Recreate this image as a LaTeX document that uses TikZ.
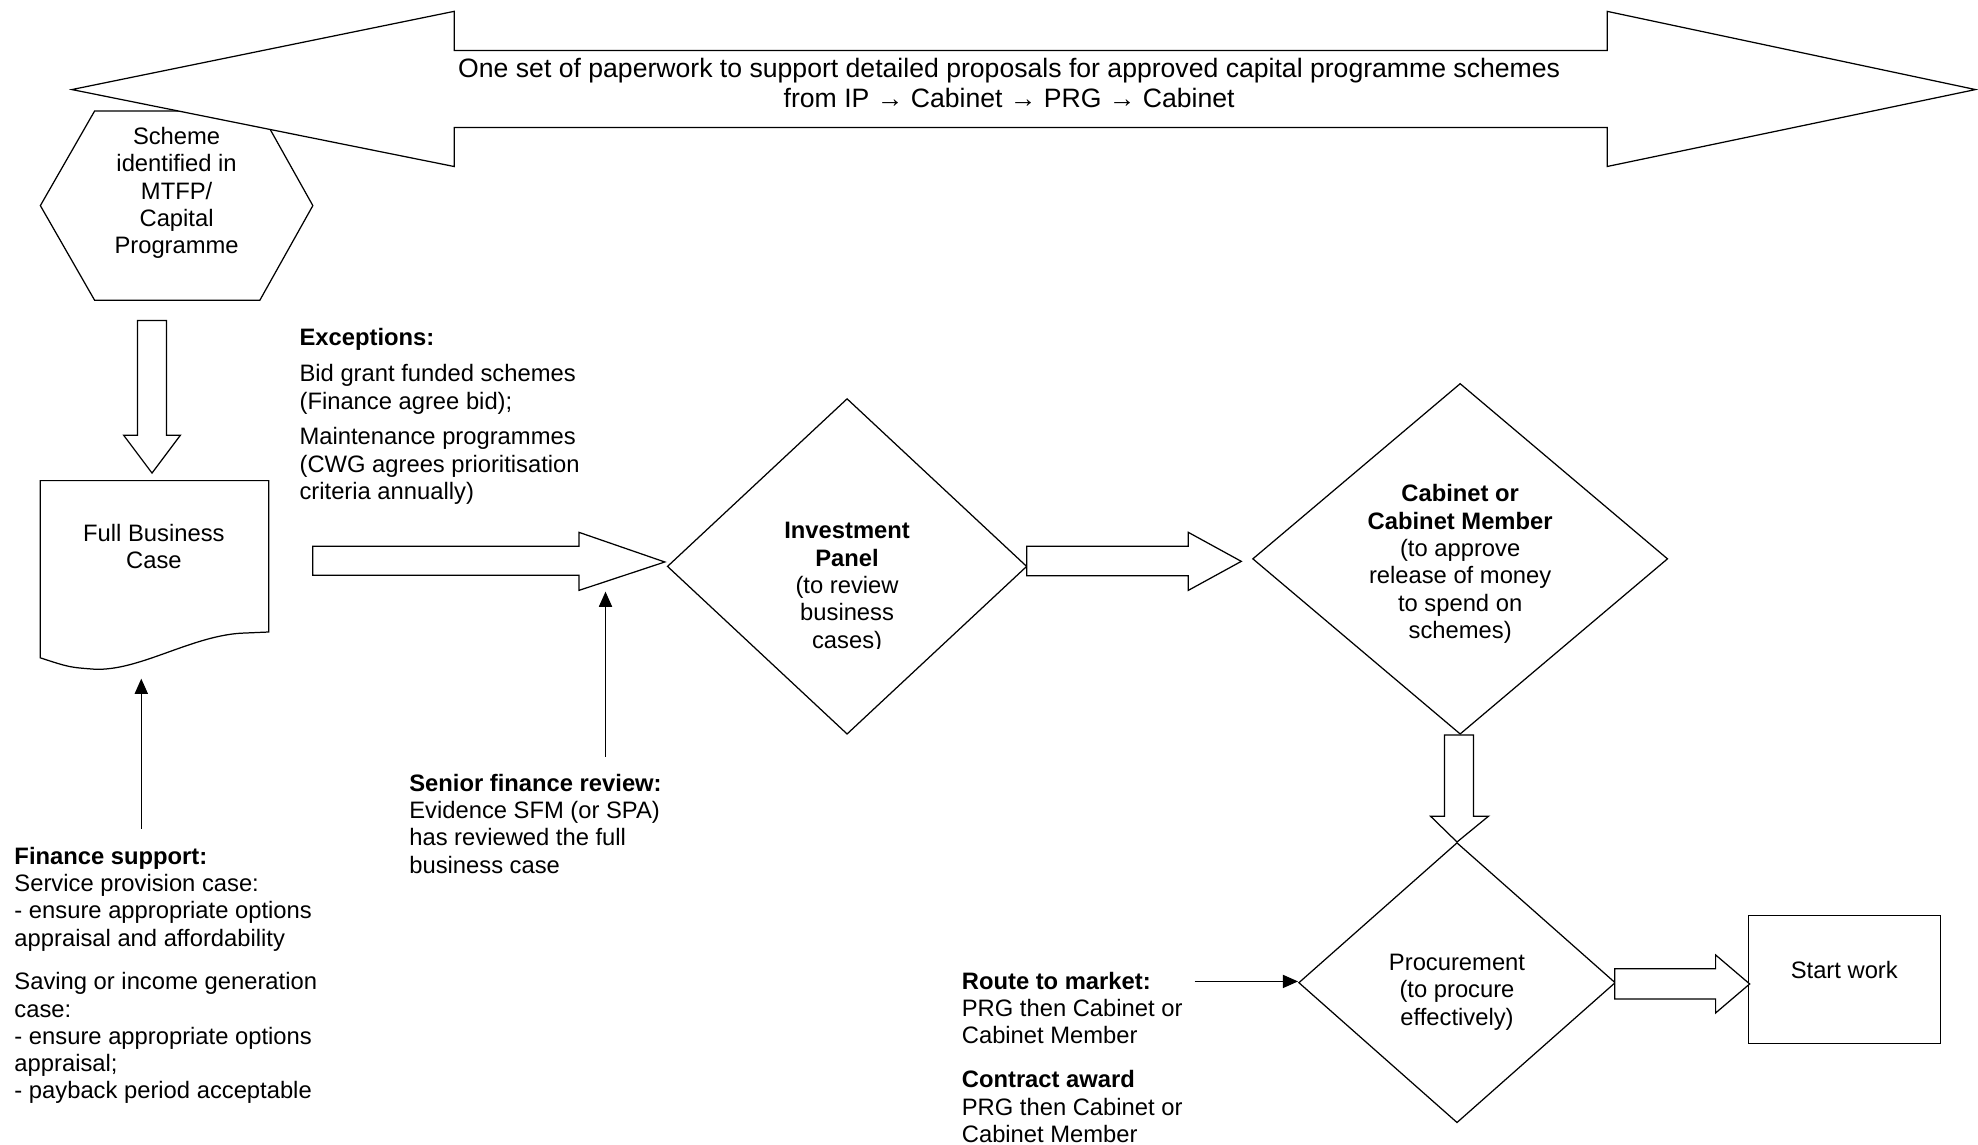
\documentclass[tikz,border=0pt]{standalone}
\usepackage{fontspec}
\setmainfont{Liberation Sans}
\usepackage{tikz}
\usetikzlibrary{arrows.meta, shapes}
\newcommand{\flowfont}{\fontsize{13.4}{15.4}\selectfont}
\newcommand{\bannerfont}{\fontsize{15}{17.1}\selectfont}

\begin{document}
\begin{tikzpicture}[x=0.025cm, y=-0.025cm, line width=0.7pt, font=\flowfont]
\tikzset{thinarrow/.style={-{Triangle[length=0.3cm,width=0.26cm]}},
         blockarrow/.style={draw, fill=white, line join=miter},
         note/.style={align=left, anchor=north west, inner sep=0pt}}
\useasboundingbox (0,0) rectangle (1568,907);

% hexagon and document shape
\draw (75,88) -- (206,88) -- (248,163) -- (206,238) -- (75,238) -- (32,163) -- cycle;
\draw (32,381) -- (213,381) -- (213,501) -- (190,502)
      .. controls (150,505) and (110,532) .. (75,530.5)
      .. controls (55,529) .. (32,521.5) -- cycle;

\begin{scope}[every node/.style={diamond,draw,inner sep=0pt}]
    \node (IP) at (671.5,449) [minimum width=7.125cm, minimum height=6.65cm] {};
    \node (CM) at (1157.5,443) [minimum width=8.225cm, minimum height=6.95cm] {};
    \node (PR) at (1155,779) [minimum width=6.275cm, minimum height=5.55cm] {};
\end{scope}
\node (SW) at (1462,776.5) [draw, minimum width=3.8cm, minimum height=2.525cm] {};

% block arrows
\draw[blockarrow] (57,71) -- (360,9) -- (360,40) -- (1274,40) -- (1274,9) -- (1566,71)
    -- (1274,132) -- (1274,101) -- (360,101) -- (360,132) -- cycle;
\draw[blockarrow] (109,254) -- (132,254) -- (132,345) -- (143,345) -- (120.5,375)
    -- (98,345) -- (109,345) -- cycle;
\draw[blockarrow] (248,433) -- (459,433) -- (459,422) -- (527,445.5) -- (459,468)
    -- (459,456) -- (248,456) -- cycle;
\draw[blockarrow] (814,433) -- (942,433) -- (942,422) -- (984,445) -- (942,468)
    -- (942,456.5) -- (814,456.5) -- cycle;
\draw[blockarrow] (1145,582.6) -- (1168,582.6) -- (1168,647) -- (1180,647) -- (PR.north)
    -- (1134,647) -- (1145,647) -- cycle;
\draw[blockarrow] (1280,768) -- (1360,768) -- (1360,757) -- (1387,780) -- (1360,803)
    -- (1360,792) -- (1280,792) -- cycle;

% texts
\node (paper) at (800,66) [align=center, font=\bannerfont] {One set of paperwork to support detailed proposals for approved capital programme schemes\\from IP → Cabinet → PRG → Cabinet};
\node (scheme) at (140,153) [align=center] {Scheme\\identified in\\MTFP/\\Capital\\Programme};
\node (fbc) at (122,433) [align=center] {Full Business\\Case};
\begin{scope}
    \clip (560,380) rectangle (790,514);
    \node (iptext) at (671.5,466) [align=center] {\textbf{Investment}\\\textbf{Panel}\\(to review\\business\\cases)};
\end{scope}
\node (cmtext) at (1157.5,447) [align=center] {\textbf{Cabinet or}\\\textbf{Cabinet Member}\\(to approve\\release of money\\to spend on\\schemes)};
\node (prtext) at (1155,786.5) [align=center] {Procurement\\(to procure\\effectively)};
\node (swtext) at (1462,769) {Start work};

\node (exc) at (237,260) [note] {\textbf{Exceptions:}\\[0.17cm]Bid grant funded schemes\\(Finance agree bid);\\[0.17cm]Maintenance programmes\\(CWG agrees prioritisation\\criteria annually)};
\node (sfr) at (324,613) [note] {\textbf{Senior finance review:}\\Evidence SFM (or SPA)\\has reviewed the full\\business case};
\node (fin) at (11,671) [note] {\textbf{Finance support:}\\Service provision case:\\- ensure appropriate options\\appraisal and affordability\\[0.32cm]Saving or income generation\\case:\\- ensure appropriate options\\appraisal;\\- payback period acceptable};
\node (rtm) at (762,770) [note] {\textbf{Route to market:}\\PRG then Cabinet or\\Cabinet Member\\[0.33cm]\textbf{Contract award}\\PRG then Cabinet or\\Cabinet Member};

% thin arrows
\coordinate (finA) at (112,657);
\coordinate (finB) at (112,538);
\coordinate (sfrA) at (480,600);
\coordinate (sfrB) at (480,469);
\coordinate (rtmA) at (947,778);
\draw[thinarrow] (finA) -- (finB);
\draw[thinarrow] (sfrA) -- (sfrB);
\draw[thinarrow] (rtmA) -- (rtmA -| PR.west);
\end{tikzpicture}
\end{document}
